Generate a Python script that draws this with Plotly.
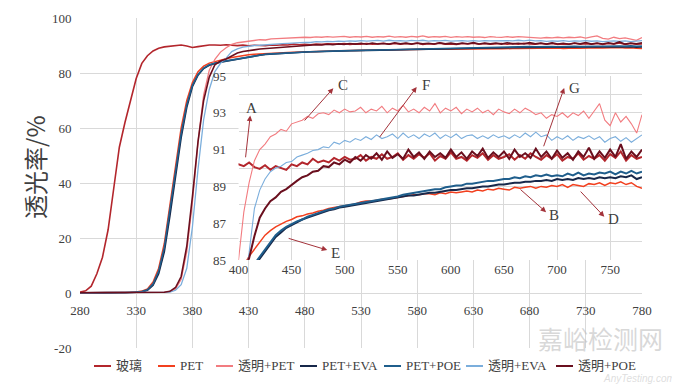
import plotly.graph_objects as go

# ---------------- data ----------------
wavelength = list(range(280, 781, 5))  # nm, 101 points

series_names = ["玻璃", "PET", "透明+PET", "PET+EVA", "PET+POE", "透明+EVA", "透明+POE"]

glass = [0.3, 0.8, 2.5, 7, 13, 23, 38, 53, 62, 70, 78, 83.5, 86.3, 88, 89, 89.5, 89.8, 90.1, 90.2, 89.8, 89.3, 89.6, 90.0, 90.2,
         90.2, 90.1, 90.3, 90.05, 89.95, 90.15, 89.9, 90.1, 90.0, 89.9, 90.2, 90.1, 90.3, 90.2, 90.5, 90.3, 90.4, 90.3, 90.55, 90.4,
         90.6, 90.45, 90.5, 90.7, 90.4, 90.6, 90.5, 90.75, 90.5, 90.6, 90.8, 90.45, 90.7, 90.5, 90.75, 90.55, 90.8, 90.4, 90.65, 90.5,
         90.85, 90.5, 90.6, 90.4, 90.7, 90.55, 90.8, 90.45, 90.7, 90.5, 90.6, 90.75, 90.45, 90.7, 90.5, 90.8, 90.6, 90.45, 90.7, 90.5,
         90.75, 90.4, 90.6, 90.5, 90.8, 90.45, 90.65, 90.5, 90.7, 90.4, 90.75, 90.55, 90.9, 90.4, 90.7, 90.5, 90.6]

pet = [0.1, 0.1, 0.2, 0.1, 0.1, 0.2, 0.1, 0.2, 0.2, 0.3, 0.4, 0.7, 1.5, 4, 9, 18, 32, 47, 60, 70, 76.5, 80.5, 82.5, 83.6,
       84.2, 84.7, 85.2, 85.6, 86.0, 86.35, 86.6, 86.8, 86.95, 87.1, 87.2, 87.35, 87.4, 87.5, 87.55, 87.65, 87.7, 87.8, 87.85, 87.9,
       87.95, 88.0, 88.05, 88.15, 88.2, 88.2, 88.25, 88.3, 88.3, 88.35, 88.4, 88.45, 88.5, 88.55, 88.55, 88.6, 88.6, 88.55, 88.65, 88.6,
       88.7, 88.65, 88.7, 88.75, 88.7, 88.8, 88.75, 88.85, 88.8, 88.9, 88.85, 88.8, 88.95, 88.9, 88.95, 89.0, 88.9, 89.0, 88.95, 89.05,
       89.0, 89.1, 88.95, 89.1, 89.05, 89.0, 89.15, 89.1, 89.2, 89.05, 89.2, 89.15, 89.25, 89.1, 89.2, 89.0, 88.9]

clear_pet = [0.1, 0.1, 0.1, 0.1, 0.1, 0.1, 0.1, 0.1, 0.1, 0.1, 0.1, 0.1, 0.1, 0.2, 0.2, 0.3, 0.5, 1.5, 5, 15, 33, 55, 72, 81,
             85.0, 87.6, 89.2, 90.4, 91.0, 91.3, 91.7, 91.85, 92.1, 92.0, 92.4, 92.5, 92.6, 92.8, 92.7, 92.95, 93.0, 92.9, 93.15, 93.0,
             93.2, 93.05, 93.1, 93.3, 93.0, 93.2, 93.1, 93.35, 93.0, 93.25, 93.1, 93.4, 93.05, 93.2, 93.0, 93.3, 93.1, 93.5, 93.0, 93.25,
             93.1, 93.3, 92.95, 93.2, 93.05, 93.25, 93.0, 93.15, 92.9, 93.2, 93.05, 92.95, 93.2, 93.0, 93.25, 93.1, 92.9, 93.0, 92.7, 92.9,
             92.8, 93.0, 92.75, 93.0, 92.85, 93.1, 92.7, 93.1, 93.5, 92.6, 92.3, 93.0, 92.5, 92.8, 92.4, 91.9, 92.9]

pet_eva = [0.0, 0.1, 0.1, 0.1, 0.0, 0.1, 0.1, 0.1, 0.1, 0.2, 0.2, 0.4, 1.0, 2.8, 7, 15, 28, 43, 56.5, 67.5, 75, 79.2, 81.6, 82.8,
           83.5, 83.9, 84.3, 84.7, 85.1, 85.5, 85.9, 86.25, 86.5, 86.75, 86.9, 87.05, 87.2, 87.3, 87.4, 87.5, 87.6, 87.7, 87.75, 87.85,
           87.9, 87.95, 88.0, 88.05, 88.1, 88.15, 88.2, 88.25, 88.3, 88.35, 88.4, 88.45, 88.5, 88.5, 88.55, 88.6, 88.65, 88.65, 88.7, 88.75,
           88.8, 88.8, 88.85, 88.9, 88.9, 88.95, 89.0, 89.0, 89.05, 89.1, 89.1, 89.15, 89.2, 89.2, 89.25, 89.25, 89.3, 89.3, 89.35, 89.3,
           89.4, 89.35, 89.4, 89.35, 89.45, 89.4, 89.45, 89.4, 89.5, 89.45, 89.5, 89.45, 89.55, 89.5, 89.6, 89.4, 89.5]

pet_poe = [0.1, 0.1, 0.1, 0.2, 0.1, 0.1, 0.2, 0.1, 0.2, 0.2, 0.3, 0.5, 1.2, 3.3, 8, 16.5, 30, 45, 58, 68.5, 75.5, 79.5, 81.8, 83.0,
           83.6, 84.0, 84.4, 84.75, 85.2, 85.6, 86.0, 86.35, 86.6, 86.8, 86.95, 87.1, 87.2, 87.35, 87.45, 87.55, 87.65, 87.75, 87.8, 87.9,
           87.95, 88.0, 88.05, 88.1, 88.15, 88.2, 88.25, 88.3, 88.35, 88.4, 88.45, 88.55, 88.6, 88.65, 88.7, 88.75, 88.8, 88.85, 88.85, 88.95,
           89.0, 89.05, 89.05, 89.15, 89.15, 89.2, 89.25, 89.3, 89.3, 89.35, 89.4, 89.4, 89.5, 89.45, 89.55, 89.5, 89.6, 89.55, 89.65, 89.55,
           89.6, 89.55, 89.7, 89.6, 89.75, 89.6, 89.7, 89.65, 89.75, 89.7, 89.8, 89.65, 89.8, 89.7, 89.85, 89.7, 89.8]

clear_eva = [0.1, 0.1, 0.1, 0.1, 0.1, 0.1, 0.1, 0.1, 0.1, 0.1, 0.1, 0.1, 0.1, 0.1, 0.1, 0.2, 0.3, 1, 3, 9, 24, 45, 63, 74,
             80.5, 83.5, 85.4, 87.8, 88.8, 89.4, 89.8, 90.0, 90.1, 90.3, 90.35, 90.6, 90.7, 90.8, 90.95, 91.0, 91.15, 91.1, 91.4, 91.3,
             91.5, 91.4, 91.6, 91.5, 91.7, 91.55, 91.8, 91.6, 91.7, 91.85, 91.6, 91.9, 91.65, 91.8, 91.6, 91.85, 91.7, 91.9, 91.6, 91.8,
             91.65, 91.85, 91.6, 91.75, 91.8, 91.6, 91.75, 91.6, 91.8, 91.65, 91.75, 91.6, 91.8, 91.65, 91.9, 91.7, 91.95, 91.7, 91.8, 91.5,
             91.7, 91.55, 91.75, 91.5, 91.7, 91.6, 91.75, 91.55, 91.7, 91.4, 91.6, 91.7, 91.45, 91.65, 91.4, 91.6, 91.8]

clear_poe = [0.1, 0.1, 0.1, 0.1, 0.1, 0.1, 0.1, 0.1, 0.1, 0.1, 0.1, 0.1, 0.1, 0.1, 0.2, 0.3, 0.6, 2, 6, 17, 35, 55, 70, 78.5,
             83.0, 84.4, 85.1, 86.3, 87.3, 87.8, 88.2, 88.4, 88.7, 88.85, 89.1, 89.3, 89.5, 89.6, 89.8, 89.85, 90.1, 90.05, 90.3, 90.2,
             90.45, 90.3, 90.6, 90.4, 90.7, 90.5, 90.8, 90.45, 90.9, 90.55, 90.75, 90.5, 91.0, 90.6, 90.85, 90.5, 90.9, 90.6, 90.8, 90.55,
             91.0, 90.6, 90.85, 90.5, 90.9, 90.65, 91.05, 90.55, 90.85, 90.6, 90.9, 90.5, 91.0, 90.6, 90.8, 90.55, 91.05, 90.6, 90.9, 90.5,
             90.95, 90.55, 90.8, 90.45, 90.9, 90.6, 91.1, 90.5, 90.9, 90.55, 91.0, 90.6, 91.3, 90.5, 90.9, 90.6, 91.0]

series_values = [glass, pet, clear_pet, pet_eva, pet_poe, clear_eva, clear_poe]

main_ticks = list(range(280, 781, 50))
y_ticks = [-20, 0, 20, 40, 60, 80, 100]
y_ticktext = ["-20", "0", "20", "40", "60", "80", "100"]
inset_x_ticks = list(range(400, 751, 50))
inset_y_ticks = [85, 87, 89, 91, 93, 95]

# arrow callouts in inset (label, tail, head, label position)
callout_labels = ["A", "B", "C", "D", "E", "F", "G"]
callout_tail = [(406.5, 90.5), (664.2, 88.9), (461, 92.5), (720.9, 88.8), (445.8, 86.2), (531.9, 91.6), (686.9, 91.1)]
callout_head = [(411, 92.85), (689.7, 87.6), (489.3, 94.34), (744.5, 87.35), (483.6, 85.54), (567.8, 94.4), (706.7, 94.35)]
callout_text = [(412.5, 93.25), (697.5, 87.45), (498.5, 94.5), (753.5, 87.25), (491.5, 85.4), (577, 94.5), (716.5, 94.35)]

# ---------------- styles ----------------
colors = ["#B3262C", "#F2401F", "#F27C80", "#17284A", "#1F5E8C", "#7BAEDC", "#6A0F1E"]
main_widths = [1.6, 1.5, 1.3, 1.6, 1.6, 1.3, 1.6]
inset_widths = [2.0, 1.5, 1.1, 2.0, 2.0, 1.1, 2.0]
FONT = "Liberation Serif, Noto Sans CJK SC, serif"
TXT = "#404040"
GRID = "#D9D9D9"

fig = go.Figure()
for name, vals, c, w in zip(series_names, series_values, colors, main_widths):
    fig.add_trace(go.Scatter(x=wavelength, y=vals, mode="lines", name=name,
                             line=dict(color=c, width=w), xaxis="x", yaxis="y",
                             showlegend=False, hoverinfo="skip"))
for name, vals, c, w in zip(series_names, series_values, colors, inset_widths):
    fig.add_trace(go.Scatter(x=wavelength, y=vals, mode="lines", name=name,
                             line=dict(color=c, width=w), xaxis="x2", yaxis="y2",
                             showlegend=False, hoverinfo="skip"))

# the html page body has an 8px margin; size the figure so the plot lands where the reference has it
OFF = 8
W, H = 680 - OFF, 384 - OFF
L, R, T, B = 80 - OFF, 38, 18 - OFF, 36
pw, ph = W - L - R, H - T - B


def px2x(px):
    return (px - OFF - L) / pw


def py2y(py):
    return (H - B - (py - OFF)) / ph


fig.update_layout(
    width=W, height=H,
    margin=dict(l=L, r=R, t=T, b=B, pad=0, autoexpand=False),
    paper_bgcolor="white", plot_bgcolor="white",
    font=dict(family=FONT, color=TXT, size=13),
    showlegend=False,
    xaxis=dict(domain=[0, 1], range=[280, 780], tickvals=main_ticks,
               showgrid=True, gridcolor=GRID, gridwidth=1, zeroline=False,
               showline=False, anchor="free", position=1 / 6,
               ticks="outside", ticklen=5, tickcolor="rgba(0,0,0,0)",
               tickfont=dict(family=FONT, size=13, color=TXT)),
    yaxis=dict(domain=[0, 1], range=[-20, 100], tickvals=y_ticks, ticktext=y_ticktext,
               showgrid=True, gridcolor=GRID, gridwidth=1, zeroline=False,
               showline=False, ticks="outside", ticklen=5, tickcolor="rgba(0,0,0,0)",
               tickfont=dict(family=FONT, size=13, color=TXT)),
    xaxis2=dict(domain=[px2x(238.5), 1], range=[400, 780], tickvals=inset_x_ticks,
                anchor="y2", showgrid=True, gridcolor=GRID, gridwidth=1, zeroline=False,
                showline=False, ticks="", tickfont=dict(family=FONT, size=13, color=TXT)),
    yaxis2=dict(domain=[py2y(260), py2y(76)], range=[85, 95], tickvals=inset_y_ticks,
                anchor="x2", showgrid=True, gridcolor=GRID, gridwidth=1, zeroline=False,
                showline=False, ticks="outside", ticklen=9, tickcolor="rgba(0,0,0,0)",
                tickfont=dict(family=FONT, size=13, color=TXT),
                minor=dict(dtick=1, tick0=85, showgrid=True, gridcolor=GRID, gridwidth=1)),
)

annotations = []
# y-axis title
annotations.append(dict(x=px2x(34), y=py2y(167), xref="paper", yref="paper", text="透光率/%",
                        textangle=-90, showarrow=False, xanchor="center", yanchor="middle",
                        font=dict(family="Noto Sans CJK SC, sans-serif", size=24, color=TXT)))

for lab, (tx, ty), (hx, hy), (lx, ly) in zip(callout_labels, callout_tail, callout_head, callout_text):
    annotations.append(dict(x=hx, y=hy, ax=tx, ay=ty, xref="x2", yref="y2", axref="x2", ayref="y2",
                            text="", showarrow=True, arrowhead=2, arrowsize=1.1, arrowwidth=1,
                            arrowcolor="#A3323A", standoff=0, startstandoff=0))
    annotations.append(dict(x=lx, y=ly, xref="x2", yref="y2", text=lab, showarrow=False,
                            xanchor="center", yanchor="middle",
                            font=dict(family=FONT, size=15, color=TXT)))

# compact legend (line swatch + label) under the plot
legend_px = [94, 158, 216, 300, 384, 466, 556]
legend_py = 366
shapes = []
for name, c, lx in zip(series_names, colors, legend_px):
    shapes.append(dict(type="line", xref="paper", yref="paper",
                       x0=px2x(lx), x1=px2x(lx + 17), y0=py2y(legend_py), y1=py2y(legend_py),
                       line=dict(color=c, width=2)))
    annotations.append(dict(x=px2x(lx + 21), y=py2y(legend_py), xref="paper", yref="paper",
                            xanchor="left", yanchor="middle", text=name, showarrow=False,
                            borderpad=0, font=dict(family=FONT, size=13, color=TXT)))

# watermark
annotations.append(dict(x=px2x(600), y=py2y(338), xref="paper", yref="paper", text="嘉峪检测网",
                        xanchor="center", yanchor="middle", showarrow=False, borderpad=0,
                        font=dict(family="Noto Sans CJK SC", size=25, color="rgba(190,190,190,0.6)")))
annotations.append(dict(x=px2x(676), y=py2y(378), xref="paper", yref="paper", text="<i>AnyTesting.com</i>",
                        xanchor="right", yanchor="middle", showarrow=False, borderpad=0,
                        font=dict(family="Liberation Sans", size=10, color="rgba(200,200,200,0.6)")))

fig.update_layout(annotations=annotations, shapes=shapes)

fig.write_html("out.html")
